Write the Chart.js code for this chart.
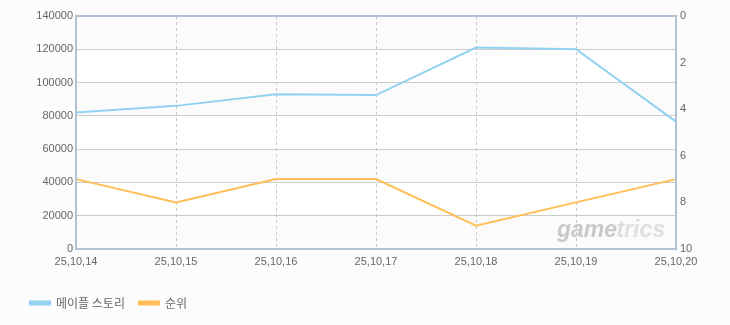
<!DOCTYPE html>
<html>
<head>
<meta charset="utf-8">
<script src="https://cdn.jsdelivr.net/npm/chart.js@4/dist/chart.umd.min.js"></script>
<style>
	html, body { margin:0; padding:0; background:#fcfcfc; }
	#wrap { width:730px; height:325px; }
</style>
</head>
<body>
<div id="wrap"><canvas id="rankChart" width="730" height="325"></canvas></div>
<script>
var labels = ["25,10,14", "25,10,15", "25,10,16", "25,10,17", "25,10,18", "25,10,19", "25,10,20"];
var users = [82000, 86000, 93000, 92500, 121000, 120000, 76500];
var ranks = [7, 8, 7, 7, 9, 8, 7];
var userTicks = [0, 20000, 40000, 60000, 80000, 100000, 120000, 140000];
var rankTicks = [0, 2, 4, 6, 8, 10];

var tickFont = { family:"'Liberation Sans', 'Noto Sans CJK KR', sans-serif", size:11 };
var frameColor = '#b0c2d4';

// plot bands, frame and watermark
const framePlugin = {
	id:'frame',
	beforeDraw(chart) {
		const ctx = chart.ctx, a = chart.chartArea, y = chart.scales.y;
		ctx.save();
		for (let i = 0; i < userTicks.length - 1; i++) {
			let t = y.getPixelForValue(userTicks[i + 1]), b = y.getPixelForValue(userTicks[i]);
			ctx.fillStyle = (i % 2 == 0) ? '#fbfbfb' : '#ffffff';
			ctx.fillRect(a.left, t, a.right - a.left, b - t);
		}
		ctx.font = "italic bold 23px 'Liberation Sans', sans-serif";
		ctx.textAlign = 'right';
		ctx.textBaseline = 'alphabetic';
		ctx.fillStyle = 'rgba(140,140,140,0.45)';
		ctx.fillText('game', a.right - 59, a.bottom - 12);
		ctx.fillStyle = 'rgba(160,160,160,0.3)';
		ctx.fillText('trics', a.right - 11, a.bottom - 12);
		ctx.restore();
	},
	afterDraw(chart) {
		const ctx = chart.ctx, a = chart.chartArea;
		ctx.save();
		ctx.strokeStyle = frameColor;
		ctx.lineWidth = 2;
		ctx.strokeRect(a.left, a.top, a.right - a.left, a.bottom - a.top);
		ctx.restore();
	}
};

const ctx = document.getElementById('rankChart').getContext('2d');
const rankChart = new Chart(ctx, {
	type:'line',
	data:{
		labels:labels,
		datasets:[
			{
				label:'메이플 스토리',
				data:users,
				yAxisID:'y',
				borderColor:'#92d1f1',
				backgroundColor:'#92d1f1',
				borderWidth:2,
				pointRadius:0,
				tension:0
			}, {
				label:'순위',
				data:ranks,
				yAxisID:'y1',
				borderColor:'#ffbe57',
				backgroundColor:'#ffbe57',
				borderWidth:2,
				pointRadius:0,
				tension:0
			}
		]
	},
	options:{
		responsive:false,
		animation:false,
		layout:{ padding:{ left:16, right:0, top:16, bottom:6 } },
		plugins:{
			legend:{
				position:'bottom',
				align:'start',
				labels:{
					boxWidth:20,
					boxHeight:3,
					padding:14,
					color:'#666',
					font:{ family:"'Noto Sans CJK KR', sans-serif", size:12 }
				}
			},
			tooltip:{ enabled:false }
		},
		scales:{
			x:{
				offset:false,
				grid:{ color:'#c8c8c8', drawTicks:false },
				border:{ dash:[3, 3], color:frameColor, width:2 },
				ticks:{ color:'#666', font:tickFont, padding:6, maxRotation:0, autoSkip:false },
				afterFit(scale) { scale.height = 34; }
			},
			y:{
				position:'left',
				min:0,
				max:140000,
				afterBuildTicks(scale) { scale.ticks = userTicks.map(v => ({ value:v })); },
				grid:{ color:'#cccccc', drawTicks:false },
				border:{ color:frameColor, width:2 },
				ticks:{ color:'#666', font:tickFont, padding:3, callback:(v) => String(v) },
				afterFit(scale) { scale.width = 60; }
			},
			y1:{
				position:'right',
				reverse:true,
				min:0,
				max:10,
				afterBuildTicks(scale) { scale.ticks = rankTicks.map(v => ({ value:v })); },
				grid:{ display:false, drawTicks:false },
				border:{ color:frameColor, width:2 },
				ticks:{ color:'#666', font:tickFont, padding:4, callback:(v) => String(v) },
				afterFit(scale) { scale.width = 54; }
			}
		}
	},
	plugins:[framePlugin]
});
</script>
</body>
</html>
